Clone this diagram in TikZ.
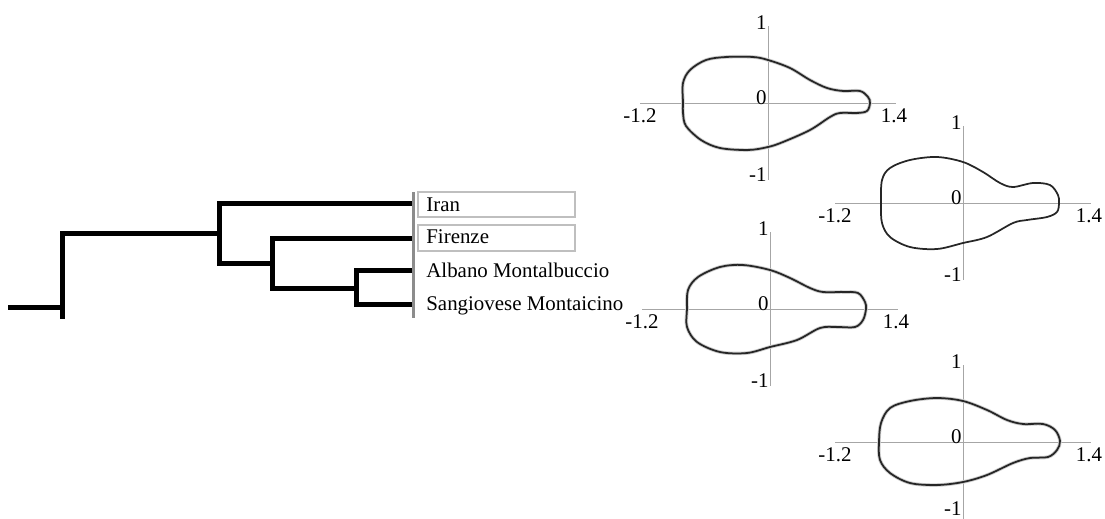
\documentclass[tikz,border=0pt]{standalone}
\usepackage{fontspec}
\setmainfont{Liberation Serif}
\usetikzlibrary{positioning}

\def\boty{72}
\tikzset{
  branch/.style={line width=0.1cm, line cap=rect, line join=miter, black},
  leafbar/.style={line width=0.06cm, black!45},
  labelbox/.style={draw=black!25, line width=0.03cm, minimum width=3.14cm, minimum height=0.5cm, inner sep=0pt},
  leaf/.style={anchor=base west, inner sep=0pt},
  axisline/.style={line width=0.02cm, black!35},
  ticklabel/.style={inner sep=0pt},
  berryhalo/.style={line width=0.07cm, black!20},
  berry/.style={line width=0.035cm, black!85},
  berry axes/.pic={
    \draw[axisline] (-128,0) -- (128,0);
    \draw[axisline] (0,-77) -- (0,77);
    \node[ticklabel, anchor=east] (-top) at (-1,-80) {1};
    \node[ticklabel, anchor=east] (-zero) at (-1,-5) {0};
    \node[ticklabel, anchor=east] (-bot) at (-1,\boty) {-1};
    \node[ticklabel] (-left) at (-128,13) {-1.2};
    \node[ticklabel] (-right) at (126,13) {1.4};
  }
}

\begin{document}
\begin{tikzpicture}[x=0.02cm, y=-0.02cm, font=\fontsize{11.9pt}{14pt}\selectfont]
  \useasboundingbox (0,0) rectangle (1105,518);

  % dendrogram
  \coordinate (root) at (10,307);
  \coordinate (n1) at (62,307);
  \coordinate (n2) at (219,233);
  \coordinate (n3) at (272,263);
  \coordinate (n4) at (356,288);
  \coordinate (l1) at (412,203);
  \coordinate (l2) at (412,238);
  \coordinate (l3) at (412,270);
  \coordinate (l4) at (412,304);

  \draw[branch] (root) -- (n1);
  \draw[branch] (n1) ++(0,9) |- (n2);
  \draw[branch] (n2) |- (l1);
  \draw[branch] (n2) |- (n3);
  \draw[branch] (n3) |- (l2);
  \draw[branch] (n3) |- (n4);
  \draw[branch] (n4) |- (l3);
  \draw[branch] (n4) |- (l4);

  \coordinate (bartop) at (413,192);
  \coordinate (barbot) at (413,318);
  \draw[leafbar] (bartop) -- (barbot);

  % leaf labels
  \node[labelbox] (iranbox) at (496.5,204.5) {};
  \node[labelbox, minimum height=0.52cm] (firenzebox) at (496.5,238) {};
  \node[leaf] (iran) at (426,211) {Iran};
  \node[leaf] (firenze) at (426,243) {Firenze};
  \node[leaf] (albano) at (426,277) {Albano Montalbuccio};
  \node[leaf] (sangiovese) at (426,310) {Sangiovese Montaicino};

  % berry outlines
  \begin{scope}[shift={(768,103)}]
    \pic (p1) {berry axes};
    \def\outline{(-85,0) (-85,-20) (-78,-33) (-62,-43) (-42,-46) (-15,-46) (0,-43) (22,-35) (42,-23) (59,-15) (75,-12) (92,-12) (100,-6) (102,0) (99,8) (89,10) (72,10) (62,14) (42,27) (15,39) (0,44) (-20,47) (-48,45) (-67,37) (-82,23) (-85,10)}
    \draw[berryhalo] plot[smooth cycle, tension=0.55] coordinates \outline;
    \draw[berry] plot[smooth cycle, tension=0.55] coordinates \outline;
  \end{scope}

  \begin{scope}[shift={(963,203)}]
    \pic (p2) {berry axes};
    \def\outline{(-82,0) (-81,-23) (-73,-35) (-53,-43) (-26,-46) (0,-41) (20,-31) (37,-20) (50,-16) (70,-20) (87,-18) (95,-8) (96,0) (94,9) (84,14) (64,17) (50,20) (24,34) (0,40) (-26,46) (-53,44) (-73,34) (-81,20)}
    \draw[berry] plot[smooth cycle, tension=0.55] coordinates \outline;
  \end{scope}

  \begin{scope}[shift={(770,309)}]
    \pic (p3) {berry axes};
    \def\outline{(-83,0) (-82,-19) (-72,-32) (-50,-42) (-27,-44) (0,-39) (20,-31) (40,-21) (53,-17) (73,-17) (88,-16) (95,-7) (96,0) (93,11) (85,18) (67,18) (50,19) (27,31) (0,38) (-23,44) (-50,43) (-73,33) (-83,18)}
    \draw[berryhalo] plot[smooth cycle, tension=0.55] coordinates \outline;
    \draw[berry] plot[smooth cycle, tension=0.55] coordinates \outline;
  \end{scope}

  \begin{scope}[shift={(963,442)}]
    \def\boty{67}
    \pic (p4) {berry axes};
    \def\outline{(-84,0) (-82,-19) (-73,-34) (-53,-41) (-26,-44) (0,-41) (24,-32) (44,-22) (60,-18) (80,-18) (92,-12) (97,-1) (94,8) (85,15) (67,16) (50,21) (24,33) (0,40) (-26,43) (-53,41) (-73,31) (-83,18)}
    \draw[berryhalo] plot[smooth cycle, tension=0.55] coordinates \outline;
    \draw[berry] plot[smooth cycle, tension=0.55] coordinates \outline;
  \end{scope}
\end{tikzpicture}
\end{document}
